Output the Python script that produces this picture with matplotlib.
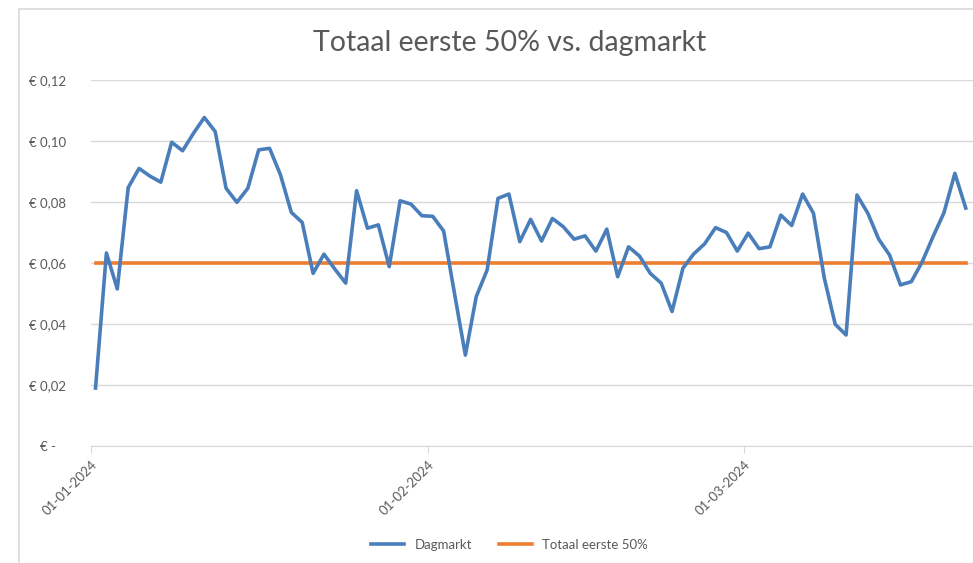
import matplotlib
matplotlib.use("Agg")
import matplotlib.pyplot as plt
import pandas as pd
from matplotlib.patches import Rectangle

# daily values (EUR/kWh)
jan = [0.019, 0.0633, 0.0515, 0.0847, 0.091, 0.0885, 0.0865, 0.0996, 0.0968, 0.1025,
       0.1077, 0.1031, 0.0845, 0.0799, 0.0845, 0.0971, 0.0976, 0.0889, 0.0766, 0.0733,
       0.0566, 0.0629, 0.058, 0.0534, 0.0837, 0.0714, 0.0725, 0.0588, 0.0804, 0.0793,
       0.0755]
feb = [0.0753, 0.0705, 0.050, 0.0298, 0.049, 0.0577, 0.0812, 0.0826, 0.067, 0.0743,
       0.0672, 0.0746, 0.0719, 0.0678, 0.0689, 0.0639, 0.0711, 0.0555, 0.0653, 0.0623,
       0.0566, 0.0534, 0.0441, 0.0583, 0.063, 0.0663, 0.0716, 0.070, 0.0639]
mar = [0.0698, 0.0647, 0.0653, 0.0757, 0.0723, 0.0826, 0.0763, 0.055, 0.0399, 0.0364,
       0.0823, 0.0763, 0.0678, 0.0626, 0.0528, 0.0539, 0.0604, 0.0687, 0.0765, 0.0894,
       0.078]
dagmarkt = jan + feb + mar
totaal_eerste_50 = 0.06

dates = pd.date_range("2024-01-01", periods=len(dagmarkt), freq="D") + pd.Timedelta(hours=10)
tick_dates = pd.to_datetime(["2024-01-01", "2024-02-01", "2024-03-01"])
y_ticks = [0, 0.02, 0.04, 0.06, 0.08, 0.10, 0.12]

plt.rcParams['font.family'] = ['Lato', 'DejaVu Sans']
grey = "#595959"

fig = plt.figure(figsize=(9.73, 5.63), dpi=100)
fig.patches.append(Rectangle((19 / 973, -0.1), 1.2, 1.1 - 9 / 563, transform=fig.transFigure,
                             fill=False, edgecolor="#d9d9d9", linewidth=1.2))
ax = fig.add_axes([91 / 973, 1 - 446 / 563, 1 - 91 / 973, (446 - 80) / 563])

ax.plot(dates, dagmarkt, color="#4a7ebb", linewidth=2.6, label="Dagmarkt", zorder=3)
ax.plot(dates, [totaal_eerste_50] * len(dates), color="#ed7d31", linewidth=2.6,
        label="Totaal eerste 50%", zorder=2)

ax.set_ylim(0, 0.12)
ax.set_xlim(pd.Timestamp("2024-01-01"), pd.Timestamp("2024-03-22 02:00"))
ax.set_yticks(y_ticks)
ax.set_yticklabels(["€ -   "] + ["€ " + f"{v:.2f}".replace(".", ",") for v in y_ticks[1:]])
ax.set_xticks(tick_dates)
ax.set_xticklabels([d.strftime("%d-%m-%Y") for d in tick_dates], rotation=45,
                   ha="right", rotation_mode="anchor")

ax.grid(axis="y", color="#d9d9d9", linewidth=1)
ax.set_axisbelow(True)
for s in ["top", "right", "left"]:
    ax.spines[s].set_visible(False)
ax.spines["bottom"].set_color("#d9d9d9")
ax.tick_params(axis="y", length=0, pad=18, labelsize=9.5, labelcolor=grey)
ax.tick_params(axis="x", length=5, color="#d9d9d9", pad=4, labelsize=9.5, labelcolor=grey)

fig.text(0.524, 0.924, "Totaal eerste 50% vs. dagmarkt", ha="center", va="center",
         fontsize=20.5, color=grey)
fig.legend(loc="center", bbox_to_anchor=(0.524, 0.032), ncol=2, frameon=False,
           fontsize=9.5, labelcolor=grey, handlelength=2.5, columnspacing=2.0)

fig.savefig("out.png", dpi=100)
